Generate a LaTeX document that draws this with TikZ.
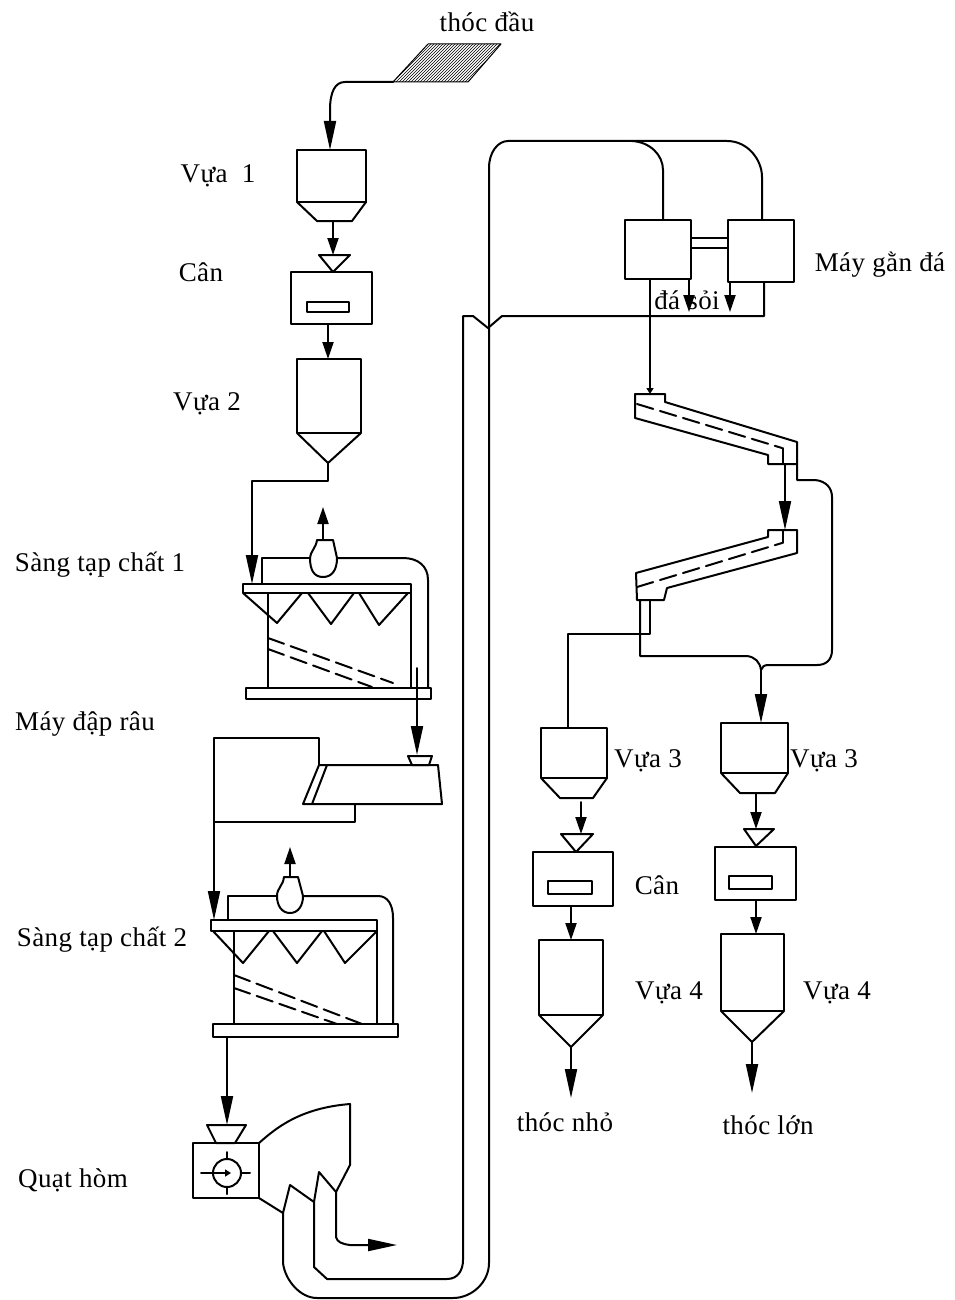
\documentclass[tikz,border=0pt]{standalone}
\usepackage{fontspec}
\setmainfont[LetterSpace=1.5]{Liberation Serif}
\usetikzlibrary{arrows.meta,patterns}

\begin{document}
\begin{tikzpicture}[
		x=1pt,
		y=-1pt,
		line cap=round,
		line join=round,
		plant/.style={
			draw=black,
			line width=2pt
		},
		vessel/.style={
			plant,
			inner sep=0pt,
			outer sep=0pt,
			fill=white
		},
		flow/.style={
			plant,
			-{Triangle[length=29pt,width=12pt]}
		},
		flowshort/.style={
			plant,
			-{Triangle[length=17pt,width=11pt]}
		},
		flowdot/.style={
			plant,
			-{Triangle[length=6pt,width=7pt]}
		},
		screen/.style={
			plant,
			dash pattern=on 17pt off 7pt
		},
		label/.style={
			font=\fontsize{27}{29}\selectfont,
			inner sep=0pt
		}
		]
		
		% page
		\path[use as bounding box] (0,0) rectangle (954,1300);
		
		% raw grain feed
		\coordinate (feedBL) at (393,82);
		\filldraw[pattern=north east lines,draw=black,line width=1pt]
			(428,44) -- (501,44) -- (468,82) -- (feedBL) -- cycle;
		
		% left column, hoppers and scale
		\node[vessel,minimum width=69pt,minimum height=52pt] (vuaA) at (331.5,176) {};
		\coordinate (vuaAout) at (333,221);
		\draw[plant] (vuaA.south west) -- (317,221) -- (352,221) -- (vuaA.south east);
		\draw[plant] (vuaA.south west) -- (vuaA.south east);
		\node[vessel,minimum width=81pt,minimum height=52pt] (canA) at (331.5,298) {};
		\node[vessel,minimum width=42pt,minimum height=10pt] (winA) at (328,307) {};
		\coordinate (triA) at (333,255);
		\coordinate (canAout) at (328,324);
		\draw[plant] (319,255) -- (350,255) -- (333,272) -- cycle;
		\node[vessel,minimum width=64pt,minimum height=74pt] (vuaB) at (329,396) {};
		\coordinate (vuaBout) at (328,463);
		\coordinate (vuaBin) at (328,359);
		\draw[plant] (vuaB.south west) -- (vuaBout) -- (vuaB.south east);
		
		\draw[flow] (feedBL) -- (345,82) .. controls (335,82) and (330,92) .. (330,110) -- (330,150);
		\draw[flowshort] (vuaAout) -- (triA);
		\draw[flowshort] (canAout) -- (vuaBin);
		
		% first sieve
		\node[vessel,minimum width=168pt,minimum height=9pt] (sangAtop) at (327,588.5) {};
		\node[vessel,minimum width=185pt,minimum height=11pt] (sangAbase) at (338.5,693.5) {};
		\coordinate (sangAin) at (252,584);
		\draw[plant] (268,593) -- (268,688);
		\draw[plant] (411,593) -- (411,688);
		\draw[plant] (243,593) -- (277,623) -- (302,593);
		\draw[plant] (308,593) -- (331,624) -- (354,593);
		\draw[plant] (359,593) -- (379,625) -- (408,593);
		\draw[screen] (268,638) -- (393,683);
		\draw[screen] (268,649) -- (372,687);
		\draw[plant] (317,540) -- (333,540) -- (337,558) .. controls (337,570) and (332,577) .. (323,577)
			.. controls (314,577) and (310,570) .. (310,558) .. controls (310,552) and (316,548) .. (317,540) -- cycle;
		\coordinate (fanAtop) at (323,540);
		\draw[flowshort] (fanAtop) -- (323,507);
		\draw[plant] (262,584) -- (262,558) -- (310,558);
		\draw[plant] (337,558) -- (403,558) .. controls (418,558) and (428,566) .. (428,580) -- (428,688);
		
		\draw[plant] (vuaBout) -- (328,481) -- (252,481) -- (252,530);
		\draw[flow] (252,530) -- (sangAin);
		
		% beard breaker
		\coordinate (dapTL) at (319,765);
		\coordinate (dapBL) at (303,804);
		\coordinate (dapBR) at (442,804);
		\coordinate (dapIn) at (417,755);
		\draw[plant] (dapTL) -- (438,765) -- (dapBR) -- (dapBL) -- cycle;
		\draw[plant] (327,765) -- (312,804);
		\draw[plant] (408,756) -- (432,756) -- (429,765) -- (412,765) -- cycle;
		\draw[flow] (417,668) -- (dapIn);
		\draw[plant] (dapTL) -- (319,738) -- (214,738) -- (214,880);
		\draw[plant] (355,804) -- (355,822) -- (214,822);
		
		% second sieve
		\node[vessel,minimum width=166pt,minimum height=11pt] (sangBtop) at (294,925.5) {};
		\node[vessel,minimum width=185pt,minimum height=13pt] (sangBbase) at (305.5,1030.5) {};
		\coordinate (sangBin) at (214,920);
		\draw[plant] (234,931) -- (234,1024);
		\draw[plant] (377,931) -- (377,1024);
		\draw[plant] (213,931) -- (243,963) -- (269,931);
		\draw[plant] (273,931) -- (297,963) -- (322,931);
		\draw[plant] (324,931) -- (345,963) -- (377,931);
		\draw[screen] (234,975) -- (362,1024);
		\draw[screen] (234,988) -- (337,1024);
		\draw[plant] (284,877) -- (298,877) -- (303,896) .. controls (303,906) and (298,913) .. (290,913)
			.. controls (282,913) and (277,906) .. (277,896) .. controls (277,888) and (283,886) .. (284,877) -- cycle;
		\coordinate (fanBtop) at (290,877);
		\draw[flowshort] (fanBtop) -- (290,847);
		\draw[plant] (228,920) -- (228,896) -- (277,896);
		\draw[plant] (303,896) -- (378,896) .. controls (388,896) and (393,905) .. (393,918) -- (393,1024);
		\draw[flow] (214,880) -- (sangBin);
		
		% blower
		\node[vessel,minimum width=66pt,minimum height=55pt] (quat) at (226,1170.5) {};
		\coordinate (quatIn) at (227,1125);
		\coordinate (sangBout) at (227,1037);
		\draw[plant] (207,1125) -- (246,1125) -- (235,1143) -- (216,1143) -- cycle;
		\draw[flow] (sangBout) -- (quatIn);
		\node[plant,circle,inner sep=0pt,minimum size=28pt] (rotor) at (227,1173) {};
		\draw[plant] (rotor.north) -- ++(0,-6);
		\draw[plant] (rotor.south) -- ++(0,6);
		\draw[plant] (rotor.east) -- ++(8,0);
		\draw[plant] (rotor.west) -- ++(-11,0);
		\draw[plant,-{Triangle[length=6pt,width=7pt]}] (rotor.west) -- ++(19,0);
		\draw[plant] (quat.north east) .. controls (276,1128) and (300,1108) .. (350,1104)
			-- (350,1165) -- (336,1192) -- (319,1172) -- (314,1202) -- (290,1185) -- (283,1213) -- (quat.south east);
		
		% return ducts
		\draw[plant] (283,1213) -- (283,1263) .. controls (285,1280) and (300,1298) .. (317,1298) -- (453,1298)
			.. controls (472,1298) and (489,1282) .. (489,1263) -- (489,168)
			.. controls (489,152) and (498,141) .. (508,141) -- (727,141)
			.. controls (748,141) and (762,160) .. (762,177) -- (762,220);
		\draw[plant] (632,141) .. controls (650,142) and (663,155) .. (663,170) -- (663,220);
		\draw[plant] (314,1202) -- (314,1267) -- (327,1279) -- (447,1279)
			.. controls (458,1279) and (463,1270) .. (463,1260) -- (463,316) -- (473,316)
			-- (488,328) -- (502,316) -- (764,316) -- (764,282);
		\draw[flow] (336,1192) -- (336,1237) .. controls (337,1242) and (342,1244) .. (350,1245) -- (397,1245);
		
		% destoner
		\node[vessel,minimum width=66pt,minimum height=59pt] (ganL) at (658,249.5) {};
		\node[vessel,minimum width=66pt,minimum height=62pt] (ganR) at (761,251) {};
		\draw[plant] (ganL.east |- 0,238) -- (ganR.west |- 0,238);
		\draw[plant] (ganL.east |- 0,248) -- (ganR.west |- 0,248);
		\coordinate (ganLout) at (650,279);
		\coordinate (traAin) at (650,394);
		\draw[flowshort] (689,279) -- (689,312);
		\draw[flowshort] (730,282) -- (730,312);
		\draw[flowdot] (ganLout) -- (traAin);
		
		% upper tray
		\coordinate (splitR) at (761,670);
		\draw[plant] (635,394) -- (665,394) -- (665,402) -- (797,442) -- (797,480) -- (815,480)
			.. controls (826,481) and (832,488) .. (832,497) -- (832,650)
			.. controls (832,660) and (826,665) .. (817,665) -- (768,665) .. controls (764,665) and (762,667) .. (splitR);
		\draw[plant] (635,394) -- (635,418) -- (768,455) -- (768,464) -- (797,464);
		\draw[screen] (637,404) -- (782,448);
		\draw[plant] (783,448) -- (783,464);
		\coordinate (traAout) at (785,464);
		\coordinate (traBin) at (785,530);
		\draw[flow] (traAout) -- (traBin);
		
		% lower tray
		\draw[plant] (768,530) -- (797,530) -- (797,553) -- (667,588) -- (664,600) -- (637,600) -- (636,573)
			-- (768,537) -- cycle;
		\draw[screen] (637,587) -- (782,543);
		\draw[plant] (783,530) -- (783,543);
		\coordinate (traBout) at (640,600);
		\draw[plant] (traBout) -- (640,656) -- (747,656) .. controls (755,657) and (760,662) .. (splitR);
		\draw[plant] (650,600) -- (650,634) -- (568,634) -- (568,728);
		
		% small grain line
		\node[vessel,minimum width=66pt,minimum height=50pt] (vuaC) at (574,753) {};
		\draw[plant] (vuaC.south west) -- (560,798) -- (593,798) -- (vuaC.south east);
		\coordinate (triC) at (581,834);
		\draw[flowshort] (581,802) -- (triC);
		\draw[plant] (561,834) -- (593,834) -- (576,852) -- cycle;
		\node[vessel,minimum width=80pt,minimum height=54pt] (canC) at (573,879) {};
		\node[vessel,minimum width=44pt,minimum height=13pt] (winC) at (570,887.5) {};
		\node[vessel,minimum width=64pt,minimum height=75pt] (vuaD) at (571,977.5) {};
		\coordinate (vuaDout) at (571,1047);
		\draw[plant] (vuaD.south west) -- (vuaDout) -- (vuaD.south east);
		\draw[flowshort] (canC.south -| vuaD.north) -- (vuaD.north);
		\draw[flow] (vuaDout) -- (571,1098);
		
		% large grain line
		\node[vessel,minimum width=67pt,minimum height=50pt] (vuaE) at (754.5,748) {};
		\draw[plant] (vuaE.south west) -- (740,793) -- (775,793) -- (vuaE.south east);
		\coordinate (triE) at (756,829);
		\draw[flow] (splitR) -- (761,723);
		\draw[flowshort] (756,793) -- (triE);
		\draw[plant] (744,829) -- (774,829) -- (756,846) -- cycle;
		\node[vessel,minimum width=81pt,minimum height=53pt] (canE) at (755.5,873.5) {};
		\node[vessel,minimum width=43pt,minimum height=13pt] (winE) at (750.5,882.5) {};
		\node[vessel,minimum width=63pt,minimum height=77pt] (vuaF) at (752.5,972.5) {};
		\coordinate (vuaFout) at (752,1042);
		\draw[plant] (vuaF.south west) -- (vuaFout) -- (vuaF.south east);
		\draw[flowshort] (canE.south -| 756,0) -- (756,934);
		\draw[flow] (vuaFout) -- (752,1093);
		
		% labels
		\node[label] (lbDau) at (487,22) {thóc đầu};
		\node[label] (lbVuaA) at (218,176) {Vựa\ \ 1};
		\node[label] (lbCanA) at (201,272) {Cân};
		\node[label] (lbVuaB) at (207,404) {Vựa 2};
		\node[label] (lbSangA) at (100,565) {Sàng tạp chất 1};
		\node[label] (lbDap) at (85,724) {Máy đập râu};
		\node[label] (lbSangB) at (102,940) {Sàng tạp chất 2};
		\node[label] (lbQuat) at (73,1180) {Quạt hòm};
		\node[label] (lbGan) at (880,265) {Máy gằn đá};
		\node[label] (lbSoi) at (687,300) {đá sỏi};
		\node[label] (lbVuaC) at (648,761) {Vựa 3};
		\node[label] (lbVuaE) at (824,761) {Vựa 3};
		\node[label] (lbCanC) at (657,885) {Cân};
		\node[label] (lbVuaD) at (669,993) {Vựa 4};
		\node[label] (lbVuaF) at (837,993) {Vựa 4};
		\node[label] (lbNho) at (565,1122) {thóc nhỏ};
		\node[label] (lbLon) at (768,1125) {thóc lớn};
	\end{tikzpicture}
\end{document}
